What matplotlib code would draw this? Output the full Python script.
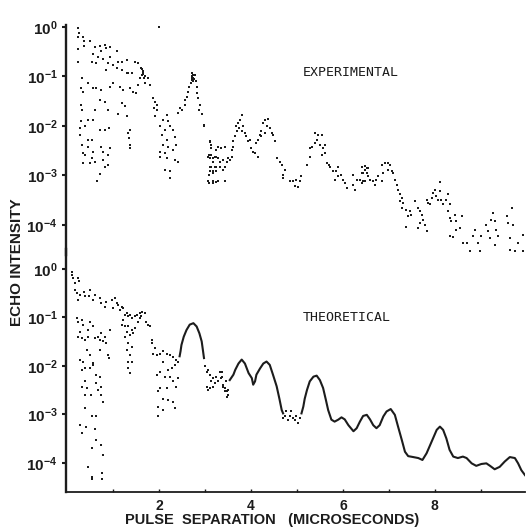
import numpy as np
import matplotlib
matplotlib.use('Agg')
import matplotlib.pyplot as plt

plt.rcParams['font.family'] = ['Liberation Sans', 'DejaVu Sans']
plt.rcParams['mathtext.fontset'] = 'custom'
plt.rcParams['mathtext.bf'] = 'Liberation Sans:bold'
plt.rcParams['mathtext.rm'] = 'Liberation Sans'

# experimental echo intensity, x in microseconds
exp_x = [0.25, 0.23, 0.26, 0.25, 0.36, 0.38, 0.50, 0.23, 0.37, 0.61,
         0.72, 0.83, 0.86, 0.93, 1.08, 0.75, 0.68, 0.57, 0.79, 0.93,
         0.54, 0.63, 0.25, 1.12, 1.19, 1.01, 0.90, 0.86, 1.08, 1.19,
         1.30, 1.33, 1.41, 1.48, 1.55, 1.62, 1.66, 1.70, 1.59, 1.77,
         1.80, 1.70, 1.55, 1.37, 1.44, 1.51, 1.22, 1.15, 1.01, 0.93,
         0.75, 0.64, 0.46, 0.32, 0.30, 0.34, 0.57, 0.72, 0.83, 0.90,
         1.19, 1.26, 1.12, 1.30, 1.37, 1.33, 1.35, 1.37, 1.38, 0.72,
         0.83, 0.92, 0.57, 0.46, 0.39, 0.30, 0.28, 0.32, 0.30, 0.61,
         0.28, 0.32, 0.36, 0.39, 0.46, 0.54, 0.46, 0.57, 0.54, 0.61,
         0.36, 0.50, 0.75, 0.79, 0.93, 0.90, 0.79, 0.83, 0.90, 0.72,
         0.66, 1.64, 1.66, 1.63, 1.67, 1.65, 1.30, 2.01,
         1.88, 1.91, 1.95, 1.89, 1.95, 1.91, 2.17, 2.09, 2.20, 2.02,
         2.13, 2.24, 2.31, 2.06, 2.17, 2.35, 2.09, 2.20, 2.38, 2.02,
         2.13, 2.31, 2.02, 2.17, 2.35, 2.42, 2.13, 2.24, 2.24,
         2.42, 2.46, 2.51, 2.57, 2.57, 2.60, 2.64, 2.66, 2.69, 2.71,
         2.75, 2.78, 2.73, 2.71, 2.75, 2.80, 2.82, 2.83, 2.85, 2.89,
         2.88, 2.93, 2.98, 2.72, 2.74, 2.76,
         3.11, 3.14, 3.09, 3.18, 3.25, 3.14, 3.25, 3.09, 3.18, 3.09,
         3.18, 3.25, 3.29,
         3.11, 3.14, 3.07, 3.11, 3.22, 3.29, 3.18, 3.33, 3.40, 3.44,
         3.36, 3.25, 3.14, 3.47, 3.54, 3.51, 3.58, 3.11, 3.22, 3.33,
         3.44, 3.11, 3.18, 3.25, 3.40, 3.07, 3.18, 3.29, 3.44, 2.97,
         3.58, 3.62, 3.62, 3.65, 3.69, 3.67, 3.72, 3.76, 3.80, 3.74,
         3.80, 3.83, 3.87, 3.90, 3.94, 3.98, 4.01, 4.05, 4.09, 4.16,
         4.12, 4.16, 4.20, 4.23, 4.27, 4.31, 4.38, 4.34, 4.41, 4.45,
         4.48, 4.52, 4.23, 4.31, 4.56, 4.63, 4.67, 4.74, 4.70, 4.70,
         4.85, 4.92, 4.99, 5.07, 5.10, 4.96, 5.03, 5.21, 5.28, 5.28,
         5.32, 5.39, 5.43, 5.46, 5.39, 5.54, 5.50, 5.57, 5.61, 5.61,
         5.54, 5.65, 5.72, 5.69, 5.79, 5.86, 5.90, 5.82, 5.97, 6.01,
         6.05, 6.08, 6.23, 6.26, 6.30, 6.37, 6.44, 6.41, 6.48, 6.55,
         6.52, 6.21, 5.90,
         6.41, 6.44, 6.48, 6.52, 6.41, 6.48, 6.55, 6.59, 6.66, 6.70,
         6.73, 6.77, 6.84, 6.88, 6.84, 6.91, 6.98, 7.02, 6.98, 7.06,
         7.09, 7.13, 7.17, 7.20, 7.24, 7.28, 7.24, 7.31, 7.28, 7.38,
         7.46, 7.42, 7.49, 7.56, 7.64, 7.67, 7.71, 7.74, 7.67, 7.78,
         7.38, 7.64, 7.82, 7.85, 7.82, 7.89, 7.93, 7.96, 8.00, 8.03,
         8.07, 8.11, 8.12, 8.14, 8.18, 8.25, 8.29, 8.32, 8.29, 8.32,
         8.36, 8.43, 8.47, 8.54, 8.32, 8.40, 8.47, 8.58, 8.61, 8.69,
         8.76, 8.83, 8.87, 8.94, 8.98, 9.01, 9.12, 9.16, 9.20, 9.23,
         9.27, 9.31, 9.34, 9.38, 9.31, 9.56, 9.60, 9.63, 9.67, 9.70,
         9.63, 9.74, 9.81, 9.92, 9.92]
exp_y = [0.95, 0.94, 0.74, 0.64, 0.64, 0.52, 0.53, 0.35, 0.41, 0.40,
         0.41, 0.43, 0.37, 0.40, 0.32, 0.32, 0.25, 0.29, 0.23, 0.25,
         0.20, 0.19, 0.20, 0.20, 0.20, 0.17, 0.19, 0.135, 0.146, 0.135,
         0.21, 0.115, 0.115, 0.20, 0.19, 0.146, 0.126, 0.10, 0.092, 0.092,
         0.067, 0.073, 0.067, 0.058, 0.049, 0.046, 0.053, 0.062, 0.073, 0.062,
         0.053, 0.058, 0.073, 0.092, 0.058, 0.049, 0.058, 0.034, 0.031, 0.021,
         0.029, 0.025, 0.017, 0.0155, 0.0083, 0.0071, 0.0056, 0.0042, 0.0035, 0.0083,
         0.0083, 0.0089, 0.0132, 0.0132, 0.0098, 0.0123, 0.0089, 0.021, 0.026, 0.021,
         0.0066, 0.0042, 0.0028, 0.0026, 0.0052, 0.0052, 0.0038, 0.0030, 0.0022, 0.0019,
         0.0018, 0.0018, 0.0038, 0.0030, 0.0035, 0.0026, 0.0020, 0.0015, 0.0016, 0.00107,
         0.00076, 0.14, 0.12, 0.105, 0.095, 0.11, 0.115, 0.98,
         0.036, 0.031, 0.026, 0.023, 0.021, 0.0155, 0.0166, 0.0132, 0.0123, 0.0098,
         0.0083, 0.0098, 0.0083, 0.0066, 0.0052, 0.0060, 0.0042, 0.0038, 0.0042, 0.0030,
         0.0028, 0.0033, 0.0024, 0.0022, 0.0020, 0.0019, 0.0013, 0.0012, 0.00088,
         0.018, 0.023, 0.021, 0.026, 0.034, 0.039, 0.049, 0.062, 0.073, 0.085,
         0.092, 0.107, 0.115, 0.10, 0.079, 0.079, 0.062, 0.046, 0.036, 0.026,
         0.021, 0.017, 0.0098, 0.095, 0.105, 0.088,
         0.0048, 0.0035, 0.0026, 0.0022, 0.0024, 0.0015, 0.0015, 0.00103, 0.0011, 0.00070,
         0.00070, 0.00072, 0.0038,
         4.9e-3, 4.2e-3, 2.4e-3, 2.2e-3, 2.4e-3, 2.2e-3, 1.9e-3, 1.9e-3, 2.0e-3, 3.8e-3,
         3.5e-3, 3.2e-3, 2.6e-3, 1.9e-3, 2.0e-3, 2.2e-3, 2.4e-3, 1.5e-3, 1.5e-3, 1.5e-3,
         1.5e-3, 1.2e-3, 1.2e-3, 1.2e-3, 1.26e-3, 7.6e-4, 7.6e-4, 7.6e-4, 7.6e-4, 1.05e-2,
         3.2e-3, 3.8e-3, 4.9e-3, 6.2e-3, 7.8e-3, 9.8e-3, 1.12e-2, 1.32e-2, 1.66e-2, 8.9e-3,
         7.8e-3, 9.8e-3, 7.1e-3, 6.2e-3, 4.9e-3, 5.2e-3, 3.5e-3, 3.0e-3, 2.8e-3, 2.4e-3,
         4.5e-3, 5.2e-3, 6.6e-3, 7.8e-3, 1.12e-2, 1.32e-2, 1.38e-2, 9.8e-3, 8.9e-3, 7.1e-3,
         6.6e-3, 4.9e-3, 6.2e-3, 7.1e-3, 2.2e-3, 1.9e-3, 1.6e-3, 1.3e-3, 1.02e-3, 8.7e-4,
         7.6e-4, 7.6e-4, 8.1e-4, 7.6e-4, 9.5e-4, 6.0e-4, 5.8e-4, 1.6e-3, 2.4e-3, 3.5e-3,
         3.8e-3, 4.5e-3, 5.2e-3, 6.6e-3, 7.1e-3, 6.6e-3, 4.2e-3, 3.5e-3, 4.2e-3, 2.8e-3,
         2.6e-3, 1.8e-3, 1.5e-3, 1.6e-3, 1.2e-3, 1.2e-3, 9.5e-4, 8.1e-4, 1.02e-3, 8.1e-4,
         6.9e-4, 5.5e-4, 6.5e-4, 5.1e-4, 8.1e-4, 8.1e-4, 7.6e-4, 1.1e-3, 1.3e-3, 1.4e-3,
         1.1e-3, 1.02e-3, 1.5e-3,
         1.5e-3, 1.1e-3, 1.55e-3, 1.4e-3, 6.9e-4, 7.6e-4, 9.5e-4, 8.1e-4, 7.6e-4, 6.5e-4,
         8.1e-4, 9.5e-4, 7.6e-4, 1.1e-3, 1.6e-3, 1.8e-3, 1.8e-3, 1.6e-3, 1.3e-3, 1.2e-3,
         1.1e-3, 8.1e-4, 6.5e-4, 5.1e-4, 4.1e-4, 3.5e-4, 3.0e-4, 2.8e-4, 2.2e-4, 2.0e-4,
         1.9e-4, 1.5e-4, 1.6e-4, 3.0e-4, 2.2e-4, 1.9e-4, 1.6e-4, 1.26e-4, 1.07e-4, 1.0e-4,
         9.1e-5, 8.7e-5, 7.4e-5, 2.8e-4, 3.2e-4, 2.6e-4, 3.5e-4, 4.4e-4, 5.1e-4, 3.8e-4,
         3.2e-4, 4.8e-4, 7.2e-4, 3.2e-4, 2.6e-4, 3.2e-4, 4.1e-4, 2.6e-4, 1.9e-4, 1.4e-4,
         1.2e-4, 1.6e-4, 1.2e-4, 8.7e-5, 5.9e-5, 5.6e-5, 7.9e-5, 1.5e-4, 4.3e-5, 4.3e-5,
         2.9e-5, 5.9e-5, 7.9e-5, 4.3e-5, 2.9e-5, 5.9e-5, 1.0e-4, 7.4e-5, 5.4e-5, 1.26e-4,
         1.7e-4, 1.2e-4, 7.9e-5, 5.9e-5, 3.9e-5, 1.5e-4, 1.07e-4, 5.4e-5, 2.2e-4, 1.0e-4,
         3.1e-5, 2.9e-5, 4.3e-5, 6.3e-5, 2.9e-5]

# theoretical: scattered dots at short separations
theo_dot_x = [0.10, 0.12, 0.14, 0.25, 0.17, 0.27, 0.17, 0.21, 0.28, 0.37,
              0.39, 0.50, 0.49, 0.61, 0.57, 0.25, 0.72, 0.75, 0.86, 0.83,
              0.97, 1.04, 1.08, 1.12, 1.01, 1.15, 1.19, 1.22, 1.26, 1.30,
              1.33, 1.37, 1.41, 1.48, 1.53, 1.59, 1.64, 1.70, 1.59, 1.55,
              1.62, 1.73, 1.77, 1.80, 1.22, 1.19, 1.26, 1.33, 1.41, 1.48,
              1.30, 1.37, 1.44, 1.26, 1.33, 1.41, 1.30, 1.37, 1.33, 1.41,
              1.33, 1.37, 0.21, 0.25, 0.32, 0.36, 0.28, 0.25, 0.32, 0.39,
              0.46, 0.50, 0.57, 0.46, 0.61, 0.68, 0.75, 0.83, 0.72, 0.79,
              0.86, 0.93, 0.90, 0.92, 0.72, 0.43, 0.50, 0.57, 0.28, 0.36,
              0.32, 0.39, 0.50, 0.57, 0.64, 0.72, 0.64, 0.75, 0.68, 0.75,
              0.79, 0.39, 0.43, 0.32, 0.39, 0.52, 0.39, 0.54, 0.64, 0.28,
              0.41, 0.32, 0.61, 0.54, 0.64, 0.75, 0.78, 0.46, 0.54, 0.54,
              0.77, 0.77,
              1.84, 1.86, 1.91, 1.88, 1.95, 2.02, 2.09, 2.17, 2.24, 2.31,
              2.38, 2.42, 2.35, 2.28, 2.20, 2.09, 2.02, 1.95, 2.13, 2.24,
              2.31, 2.42, 2.38, 2.02, 2.17, 1.99, 2.09, 2.20, 2.31, 2.35,
              1.99, 2.09, 1.99,
              3.00, 3.04, 3.07, 3.11, 3.04, 3.07, 3.14, 3.18, 3.22, 3.25,
              3.29, 3.33, 3.36, 3.40, 3.43, 3.47, 3.51, 3.11, 3.18, 3.37,
              3.40, 3.44, 3.47, 3.51, 3.46, 3.38,
              4.74, 4.77, 4.85, 4.88, 4.92, 4.99, 5.03, 4.96, 5.07, 4.81,
              4.70]
theo_dot_y = [0.88, 0.76, 0.65, 0.65, 0.50, 0.55, 0.37, 0.32, 0.29, 0.34,
              0.27, 0.37, 0.27, 0.29, 0.23, 0.23, 0.25, 0.195, 0.21, 0.166,
              0.23, 0.25, 0.195, 0.18, 0.155, 0.14, 0.166, 0.155, 0.112, 0.123,
              0.105, 0.112, 0.095, 0.105, 0.112, 0.123, 0.132, 0.123, 0.095, 0.081,
              0.105, 0.081, 0.071, 0.065, 0.087, 0.071, 0.065, 0.065, 0.055, 0.060,
              0.051, 0.044, 0.047, 0.040, 0.030, 0.025, 0.021, 0.017, 0.0123, 0.0123,
              0.0089, 0.0071, 0.095, 0.081, 0.087, 0.071, 0.051, 0.040, 0.037, 0.035,
              0.040, 0.081, 0.065, 0.055, 0.037, 0.040, 0.047, 0.040, 0.035, 0.032,
              0.030, 0.055, 0.017, 0.0145, 0.021, 0.021, 0.017, 0.0115, 0.0132, 0.0123,
              0.0083, 0.0089, 0.0089, 0.0105, 0.0065, 0.0060, 0.0044, 0.0037, 0.0032, 0.0025,
              0.0018, 0.0048, 0.0035, 0.0037, 0.0025, 0.0025, 0.00135, 0.00091, 0.00091, 0.00060,
              0.00056, 0.00041, 0.00051, 0.00020, 0.00030, 0.00023, 0.000145, 8.3e-5, 5.2e-5, 4.7e-5,
              6.2e-5, 4.7e-5,
              0.035, 0.030, 0.023, 0.018, 0.017, 0.018, 0.020, 0.018, 0.017, 0.0155,
              0.0132, 0.0123, 0.0105, 0.0089, 0.0083, 0.0123, 0.0076, 0.0065, 0.0060, 0.0060,
              0.0048, 0.0056, 0.0037, 0.0035, 0.0035, 0.0030, 0.0021, 0.0020, 0.0018, 0.00135,
              0.00145, 0.00123, 0.00091,
              0.0098, 0.0076, 0.0083, 0.0065, 0.0037, 0.0032, 0.0048, 0.0056, 0.0044, 0.0060,
              0.0048, 0.0076, 0.0056, 0.0041, 0.0035, 0.0030, 0.0025, 0.0035, 0.0037, 0.0060,
              0.0037, 0.0030, 0.0023, 0.0032, 0.0048, 0.0076,
              0.00091, 0.00115, 0.00091, 0.00115, 0.00083, 0.00091, 0.00066, 0.00078, 0.00083, 0.00078,
              0.00083]

# theoretical: continuous curve (nan = break where the trace is dotted)
theo_line_x = [2.45, 2.47, 2.49, 2.54, 2.60, 2.67, 2.75, 2.82, 2.88, 2.93, 2.96, 2.98, np.nan,
               3.54, 3.62, 3.66, 3.73, 3.80, 3.87, 3.95, 4.02, 4.05, 4.09, 4.12, 4.20, 4.27,
               4.34, 4.41, 4.48, 4.56, 4.62, 4.67, 4.70, np.nan,
               5.10, 5.14, 5.17, 5.22, 5.28, 5.36, 5.43, 5.50, 5.57, 5.63, 5.68, 5.75, 5.82,
               5.90, 5.97, 6.04, 6.12, 6.23, 6.30, 6.37, 6.44, 6.52, 6.59, 6.66, 6.73, 6.80,
               6.88, 6.95, 7.04, 7.13, 7.20, 7.28, 7.35, 7.42, 7.53, 7.64, 7.73, 7.82, 7.93,
               8.04, 8.11, 8.18, 8.25, 8.32, 8.40, 8.50, 8.61, 8.69, 8.80, 8.90, 9.01, 9.12,
               9.20, 9.30, 9.41, 9.52, 9.63, 9.74, 9.81, 9.88, 9.96]
theo_line_y = [0.0158, 0.020, 0.027, 0.040, 0.055, 0.071, 0.076, 0.065, 0.047, 0.032, 0.020, 0.0145, np.nan,
               0.0051, 0.0066, 0.0083, 0.0112, 0.0135, 0.0112, 0.0071, 0.0056, 0.0041, 0.0048, 0.0066, 0.0089, 0.0112,
               0.0123, 0.0105, 0.0066, 0.0038, 0.0021, 0.00123, 0.00105, np.nan,
               0.00105, 0.00145, 0.0021, 0.0032, 0.0048, 0.0060, 0.0063, 0.0051, 0.0035, 0.0020, 0.00123, 0.00078, 0.00071,
               0.00078, 0.00087, 0.00079, 0.00060, 0.00045, 0.00052, 0.00071, 0.00093, 0.00098, 0.00079, 0.00060, 0.00052, 0.00060,
               0.00091, 0.00115, 0.00129, 0.00098, 0.00056, 0.00030, 0.00017, 0.000138, 0.000132, 0.000126, 0.000115, 0.000158, 0.000275,
               0.00048, 0.00056, 0.00048, 0.00032, 0.000186, 0.000135, 0.000126, 0.000135, 0.000126, 9.8e-5, 8.7e-5, 9.5e-5, 9.8e-5,
               8.7e-5, 7.4e-5, 8.3e-5, 1.07e-4, 1.32e-4, 1.26e-4, 9.8e-5, 7.1e-5, 5.6e-5]

decades = [1e0, 1e-1, 1e-2, 1e-3, 1e-4]
decade_labels = [r'$\mathbf{10^{0}}$', r'$\mathbf{10^{-1}}$', r'$\mathbf{10^{-2}}$',
                 r'$\mathbf{10^{-3}}$', r'$\mathbf{10^{-4}}$']
ink = '#1c1c1c'

fig = plt.figure(figsize=(5.26, 5.29), dpi=100)
ax1 = fig.add_axes([0.1255, 0.518, 0.8726, 0.4348])
ax2 = fig.add_axes([0.1255, 0.0699, 0.8726, 0.4594])

for ax in (ax1, ax2):
    ax.set_facecolor('none')
    ax.set_yscale('log')
    ax.set_xlim(-0.02, 9.96)
    ax.spines['top'].set_visible(False)
    ax.spines['right'].set_visible(False)
    ax.spines['left'].set_linewidth(1.7)
    ax.spines['left'].set_color(ink)
    ax.set_yticks(decades, labels=decade_labels)
    ax.yaxis.set_minor_locator(matplotlib.ticker.NullLocator())
    ax.tick_params(axis='y', direction='out', length=3, width=1.5, pad=3,
                   labelsize=11, colors=ink)

ax1.set_ylim(10**-4.61, 10**0.04)
ax2.set_ylim(10**-4.60, 10**0.41)

ax1.spines['bottom'].set_visible(False)
ax1.set_xticks([])

ax2.spines['bottom'].set_linewidth(1.3)
ax2.spines['bottom'].set_color(ink)
ax2.set_xticks(range(1, 10), labels=['', '2', '', '4', '', '6', '', '8', ''])
ax2.xaxis.set_minor_locator(matplotlib.ticker.NullLocator())
ax2.tick_params(axis='x', direction='in', length=2.5, width=1, pad=5,
                labelsize=10, colors=ink)
for t in ax2.get_xticklabels():
    t.set_fontweight('bold')

ax1.scatter(exp_x, exp_y, s=4, marker='s', c=ink, linewidths=0)
ax2.scatter(theo_dot_x, theo_dot_y, s=3, marker='s', c=ink, linewidths=0)
ax2.plot(theo_line_x, theo_line_y, color=ink, lw=1.5)

ax1.text(5.13, 0.118, 'EXPERIMENTAL', family='DejaVu Sans Mono', fontsize=9.5,
         color=ink, va='center', ha='left')
ax2.text(5.13, 0.098, 'THEORETICAL', family='DejaVu Sans Mono', fontsize=9.5,
         color=ink, va='center', ha='left')

fig.text(0.032, 0.505, 'ECHO INTENSITY', rotation=90, ha='center', va='center',
         fontsize=11, fontweight='bold', color=ink)
fig.text(0.518, 0.017, 'PULSE  SEPARATION   (MICROSECONDS)', ha='center', va='center',
         fontsize=10.5, fontweight='bold', color=ink)

fig.savefig('out.png', dpi=100)
